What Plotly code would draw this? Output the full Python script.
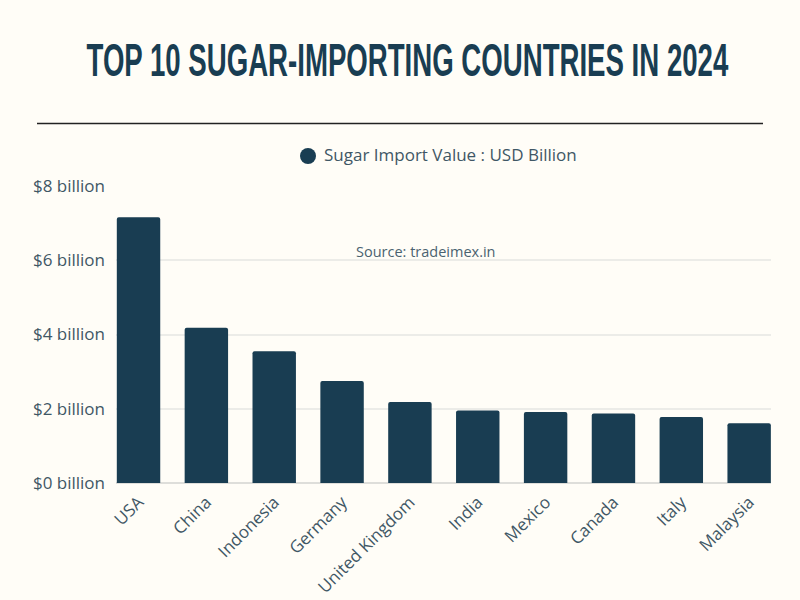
import plotly.graph_objects as go

countries = ["USA", "China", "Indonesia", "Germany", "United Kingdom", "India", "Mexico", "Canada", "Italy", "Malaysia"]
values = [7.16, 4.18, 3.55, 2.75, 2.18, 1.95, 1.91, 1.87, 1.78, 1.61]
tick_vals = [0, 2, 4, 6, 8]
tick_text = ["$0 billion", "$2 billion", "$4 billion", "$6 billion", "$8 billion"]
navy = "#193d52"
label = "#3f5765"
fig = go.Figure(go.Bar(x=list(range(len(countries))), y=values, marker_color=navy, marker_line_width=0,
                       marker_cornerradius=2, width=0.64, showlegend=False))
fig.update_layout(
    width=800, height=600, paper_bgcolor="#fffdf7", plot_bgcolor="#fffdf7",
    margin=dict(l=0, r=0, t=0, b=0), showlegend=False,
    font=dict(family="Open Sans", color=label, size=17),
    xaxis=dict(domain=[116/800, 771/800], range=[-0.332, 9.322], tickmode="array", tickvals=list(range(len(countries))),
               ticktext=countries, tickangle=-45, tickfont=dict(size=17), showgrid=False, showline=False, ticks="",
               automargin=False, ticklabelstandoff=5),
    yaxis=dict(domain=[0.195, 0.69], range=[0, 8], tickvals=tick_vals, ticktext=tick_text, gridcolor="#ecece8", gridwidth=1.5,
               zeroline=True, zerolinecolor="#dededa", zerolinewidth=1.5, ticks="", tickfont=dict(size=17), automargin=False,
               ticklabelstandoff=10),
    annotations=[
        dict(text="TOP 10 SUGAR-IMPORTING COUNTRIES IN 2024", x=407.5/800, y=1-60/600, xref="paper", yref="paper", yanchor="middle",
             showarrow=False,
             font=dict(family="Liberation Sans", size=47, color=navy, weight="bold")),
        dict(text="Sugar Import Value : USD Billion", x=322/800, y=1-155/600, xref="paper", yref="paper", xanchor="left", yanchor="middle", showarrow=False,
             font=dict(size=17, color=label)),
        dict(text="Source: tradeimex.in", x=354/800, y=1-252/600, xref="paper", yref="paper", xanchor="left", yanchor="middle", showarrow=False,
             font=dict(size=14.5, color="#4a6270")),
    ],
    shapes=[
        dict(type="line", xref="paper", yref="paper", x0=37/800, x1=763/800, y0=1-123.5/600, y1=1-123.5/600, line=dict(color="#222222", width=1.5)),
        dict(type="circle", xref="paper", yref="paper", x0=300/800, x1=316/800, y0=1-164/600, y1=1-148/600, fillcolor=navy, line_width=0),
    ],
)
post = """
document.body.style.margin='0';
document.body.style.background='#fffdf7';
function squeeze(){
  document.querySelectorAll('.annotation-text').forEach(function(t){
    if(t.textContent.indexOf('TOP 10')===0){
      var b=t.getBBox(), cx=b.x+b.width/2, s=642/t.getComputedTextLength();
      t.setAttribute('transform','translate('+cx+' 0) scale('+s+' 1) translate('+(-cx)+' 0)');
    }
  });
}
squeeze(); setTimeout(squeeze,0); setTimeout(squeeze,200);
"""
fig.write_html("out.html", post_script=post, config=dict(displayModeBar=False))
